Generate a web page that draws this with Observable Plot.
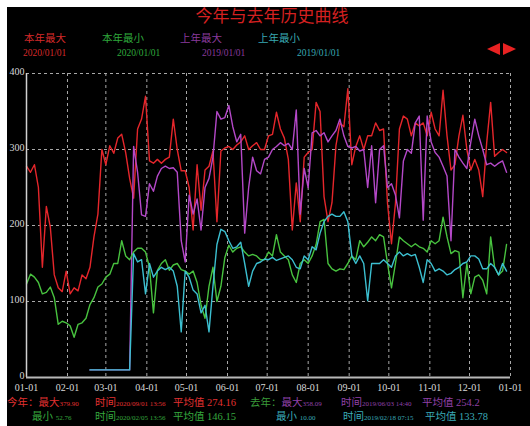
<!DOCTYPE html>
<html><head><meta charset="utf-8">
<script src="https://cdn.jsdelivr.net/npm/d3@7"></script>
<script src="https://cdn.jsdelivr.net/npm/@observablehq/plot@0.6"></script>
<style>
html,body{margin:0;padding:0;background:#fff;width:530px;height:426px;overflow:hidden;}
#panel{position:absolute;left:7px;top:7px;width:523px;height:419px;background:#000;}
.t{position:absolute;white-space:nowrap;line-height:1;font-family:"Liberation Serif","Noto Sans CJK SC",serif;}
.t small{font-size:7px;}
#chart{position:absolute;left:0;top:60px;}
.arrL{position:absolute;left:487px;top:43px;width:0;height:0;border-top:6px solid transparent;border-bottom:6px solid transparent;border-right:13px solid #e82222;}
.arrR{position:absolute;left:503px;top:43px;width:0;height:0;border-top:6px solid transparent;border-bottom:6px solid transparent;border-left:13px solid #e82222;}
</style></head><body>
<div id="panel"></div>
<div id="chart"></div>
<div class="arrL"></div><div class="arrR"></div>
<script>
// ---- data ----
const title = "今年与去年历史曲线";
const legendNames = ["本年最大", "本年最小", "上年最大", "上年最小"];
const legendDates = ["2020/01/01", "2020/01/01", "2019/01/01", "2019/01/01"];
const xTickLabels = ["01-01","02-01","03-01","04-01","05-01","06-01","07-01","08-01","09-01","10-01","11-01","12-01","01-01"];
const yTicks = [0, 100, 200, 300, 400];
const STEP = 3;           // days between readings
const thisYearStart = 0;  // day offset of first reading
const lastYearStart = 48; // day offset of first reading

const thisYearMax = [278,270,280,250,145,225,198,135,118,113,
140,110,118,114,135,130,145,185,215,300,
280,305,295,315,320,296,262,236,327,340,
370,285,282,287,282,287,290,340,300,272,
272,250,194,280,220,273,278,298,205,298,
302,304,300,306,310,318,300,305,309,300,
300,318,320,349,327,315,287,194,256,205,
290,296,300,362,350,238,205,230,305,335,
330,380,280,304,318,300,318,318,335,325,
327,229,176,229,327,344,340,318,335,331,
335,318,349,327,318,378,318,273,280,318,
345,300,273,287,273,238,309,362,291,296,
300,296];

const thisYearMin = [123,136,132,125,110,112,119,105,70,74,
72,68,53,70,72,78,96,105,119,123,
132,136,150,150,180,160,155,165,170,170,
165,145,85,141,150,155,141,148,150,142,
140,136,140,125,95,78,120,145,100,120,
158,174,165,170,172,165,160,162,160,155,
155,165,160,188,165,160,155,135,125,150,
155,150,160,175,205,208,150,143,140,143,
142,150,160,155,180,172,178,185,180,188,
185,150,118,150,185,180,176,172,176,172,
170,165,180,176,180,211,185,163,167,165,
105,150,110,132,135,128,110,185,145,135,
140,175];

const lastYearMax = [10,10,10,10,10,10,10,10,10,10,
10,304,270,214,212,255,245,265,275,278,
275,276,270,180,152,240,215,235,194,250,
262,290,350,340,342,358,330,310,320,190,
250,290,272,268,287,290,300,304,309,305,
308,300,352,215,275,250,322,325,318,322,
310,318,325,340,318,304,302,304,298,300,
250,305,230,300,305,250,255,240,210,285,
300,295,335,344,207,344,310,296,290,278,
265,180,300,290,282,275,310,340,318,300,
280,282,278,282,285,270];

const lastYearMin = [10,10,10,10,10,10,10,10,10,10,
10,163,152,155,110,150,132,140,145,142,
145,140,120,60,140,132,115,110,85,95,
60,120,175,195,192,180,170,172,178,150,
120,140,150,152,156,155,158,154,156,158,
160,155,145,143,160,155,172,168,190,205,
212,215,212,212,218,205,160,150,160,150,
101,150,150,150,155,150,145,160,165,160,
163,160,162,145,125,155,150,140,143,140,
135,137,142,145,150,152,160,160,156,143,
143,150,145,135,150,140];

const seriesColors = ["#e5262b", "#48c23f", "#b448c8", "#3cbfd0"];
const legendColors = ["#d62a2a", "#2fa83c", "#8a3a9c", "#38a8b2"];

const statsRow1 = [
  {x: 7,   html: '今年：最大<small>379.90</small>', color: "#e03030"},
  {x: 95,  html: '时间<small>2020/09/01 13:56</small>', color: "#e03030"},
  {x: 173, html: '平均值 274.16', color: "#e03030"},
  {x: 250, html: '<span style="color:#3a9a3a">去年：</span>最大<small>358.09</small>', color: "#9040a8"},
  {x: 341, html: '时间<small>2019/06/03 14:40</small>', color: "#9040a8"},
  {x: 422, html: '平均值 254.2', color: "#9040a8"}
];
const statsRow2 = [
  {x: 32,  html: '最小 <small>52.76</small>', color: "#36a83e"},
  {x: 95,  html: '时间<small>2020/02/05 13:56</small>', color: "#36a83e"},
  {x: 173, html: '平均值 146.15', color: "#36a83e"},
  {x: 276, html: '最小 <small>10.00</small>', color: "#3aaab8"},
  {x: 343, html: '时间<small>2019/02/18 07:15</small>', color: "#3aaab8"},
  {x: 425, html: '平均值 133.78', color: "#3aaab8"}
];

// ---- helpers ----
function place(html, x, yc, size, color, center) {
  const d = document.createElement("div");
  d.className = "t";
  d.innerHTML = html;
  d.style.left = x + "px";
  d.style.top = (yc - size / 2) + "px";
  d.style.fontSize = size + "px";
  d.style.color = color;
  if (center) d.style.transform = "translateX(-50%)";
  document.body.appendChild(d);
}

place(title, 272, 16, 17, "#d42020", true);
[24, 102, 180, 258].forEach((x, i) => place(legendNames[i], x, 39, 10.5, legendColors[i]));
[23, 117, 202, 297].forEach((x, i) => place(legendDates[i], x, 54, 9.5, legendColors[i]));
statsRow1.forEach(s => place(s.html, s.x, 403, 10.5, s.color));
statsRow2.forEach(s => place(s.html, s.x, 417, 10.5, s.color));

// ---- chart ----
const DAY = 86400000;
const t0 = Date.UTC(2020, 0, 1);
const toDate = d => new Date(t0 + d * DAY);
const xTicks = d3.utcMonths(new Date(t0), new Date(Date.UTC(2021, 0, 2)));
const tickIdx = new Map(xTicks.map((d, i) => [+d, i]));
const rowsOf = (vals, start) => vals.map((v, i) => ({date: toDate(start + i * STEP), value: v}));

const dRedMax = rowsOf(thisYearMax, thisYearStart);
const dGreenMin = rowsOf(thisYearMin, thisYearStart);
const dPurpleMax = rowsOf(lastYearMax, lastYearStart);
const dCyanMin = rowsOf(lastYearMin, lastYearStart);

const chart = Plot.plot({
  width: 530,
  height: 335,
  marginLeft: 26,
  marginRight: 20,
  marginTop: 13,
  marginBottom: 18,
  style: {background: "transparent", color: "#d8d8d8", fontFamily: "'Liberation Serif', serif", fontSize: "10px"},
  x: {type: "utc", domain: [new Date(t0), xTicks[xTicks.length - 1]], label: null},
  y: {domain: [0, 400], label: null},
  marks: [
    Plot.ruleX(xTicks, {stroke: "#a8a8a8", strokeWidth: 1, strokeDasharray: "3,3"}),
    Plot.ruleY(yTicks, {stroke: "#a8a8a8", strokeWidth: 1, strokeDasharray: "3,3"}),
    Plot.lineY(dRedMax, {x: "date", y: "value", stroke: seriesColors[0], strokeWidth: 1.4}),
    Plot.lineY(dPurpleMax, {x: "date", y: "value", stroke: seriesColors[2], strokeWidth: 1.4}),
    Plot.lineY(dGreenMin, {x: "date", y: "value", stroke: seriesColors[1], strokeWidth: 1.4}),
    Plot.lineY(dCyanMin, {x: "date", y: "value", stroke: seriesColors[3], strokeWidth: 1.4}),
    Plot.ruleX([xTicks[0]], {stroke: "#d0d0d0", strokeWidth: 1.5}),
    Plot.ruleY([0], {stroke: "#b8b8b8", strokeWidth: 2}),
    Plot.axisX(xTicks, {tickSize: 0, tickPadding: 6, tickFormat: d => xTickLabels[tickIdx.get(+d)], label: null}),
    Plot.axisY(yTicks, {tickSize: 0, tickPadding: 2, dy: -1.5, label: null})
  ]
});
document.getElementById("chart").appendChild(chart);
</script>
</body></html>
